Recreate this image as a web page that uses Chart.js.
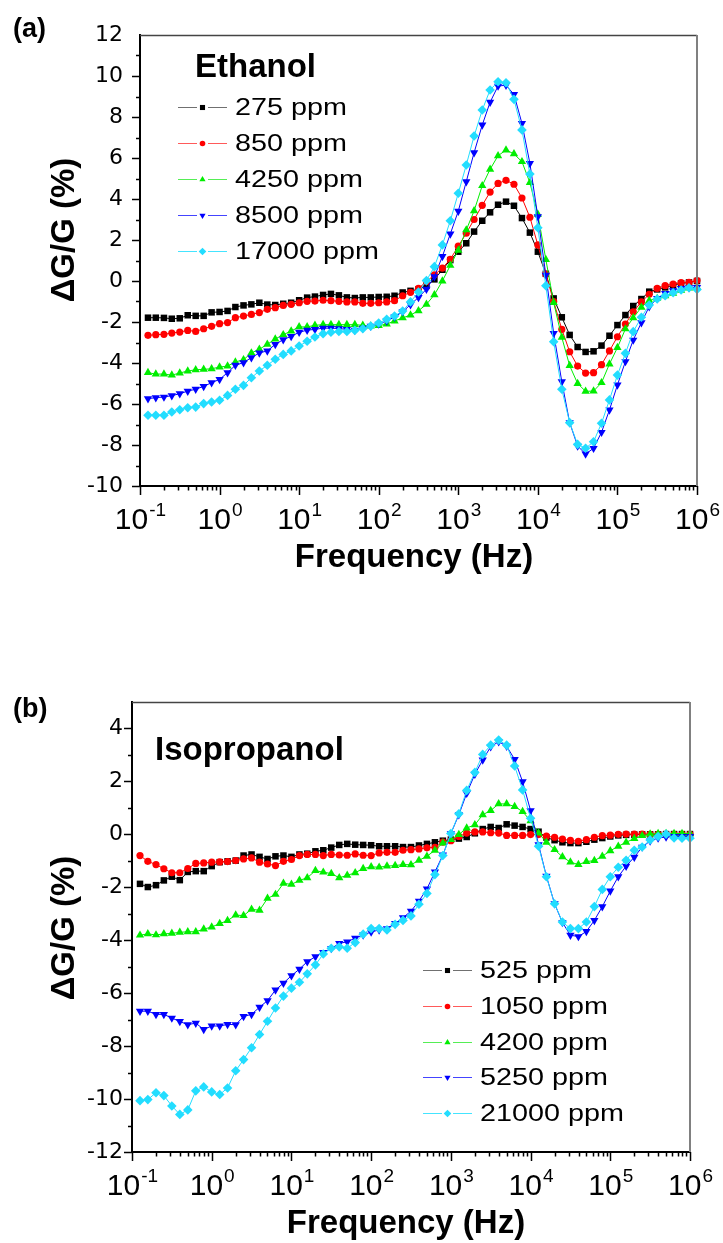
<!DOCTYPE html>
<html>
<head>
<meta charset="utf-8">
<title>ΔG/G vs frequency</title>
<script src="https://cdn.jsdelivr.net/npm/chart.js@4.4.1/dist/chart.umd.min.js"></script>
<style>
  html, body { margin: 0; padding: 0; background: #fff; }
  #wrap { position: relative; width: 723px; height: 1243px; }
  canvas { position: absolute; left: 0; }
  #ethanolChart { top: 0; }
  #isoChart { top: 620px; }
</style>
</head>
<body>
<div id="wrap">
  <canvas id="ethanolChart" width="723" height="620"></canvas>
  <canvas id="isoChart" width="723" height="623"></canvas>
</div>
<script>
// -------------------------
// Data
// -------------------------
const freqHz = [
  0.126, 0.158, 0.2, 0.251, 0.316, 0.398, 0.501, 0.631, 0.794, 1,
  1.26, 1.58, 2, 2.51, 3.16, 3.98, 5.01, 6.31, 7.94, 10,
  12.6, 15.8, 20, 25.1, 31.6, 39.8, 50.1, 63.1, 79.4, 100,
  126, 158, 200, 251, 316, 398, 501, 631, 794, 1000,
  1260, 1580, 2000, 2510, 3160, 3980, 5010, 6310, 7940, 10000,
  12600, 15800, 20000, 25100, 31600, 39800, 50100, 63100, 79400, 100000,
  126000, 158000, 200000, 251000, 316000, 398000, 501000, 631000, 794000, 1000000
];

// x axis labels: 10^n for each decade
const decadeTicks = [0.1, 1, 10, 100, 1000, 10000, 100000, 1000000];
const decadeExponents = ["-1", "0", "1", "2", "3", "4", "5", "6"];
const minorSteps = [2, 3, 4, 5, 6, 7, 8, 9];

const ethanolYTicks = [-10, -8, -6, -4, -2, 0, 2, 4, 6, 8, 10, 12];
const isoYTicks = [-12, -10, -8, -6, -4, -2, 0, 2, 4];

// (a) Ethanol
const ethanolLabels = ["275 ppm", "850 ppm", "4250 ppm", "8500 ppm", "17000 ppm"];
const eth275 = [
  -1.79, -1.79, -1.80, -1.84, -1.82, -1.67, -1.70, -1.70, -1.53, -1.51,
  -1.46, -1.27, -1.19, -1.14, -1.06, -1.15, -1.17, -1.11, -1.06, -0.94,
  -0.81, -0.76, -0.68, -0.63, -0.70, -0.80, -0.83, -0.80, -0.80, -0.78,
  -0.77, -0.72, -0.56, -0.48, -0.41, -0.24, 0.08, 0.55, 1.02, 1.43,
  1.84, 2.41, 2.94, 3.35, 3.72, 3.87, 3.67, 3.07, 2.36, 1.43,
  0.35, -0.85, -1.77, -2.63, -3.22, -3.46, -3.43, -3.15, -2.67, -2.15,
  -1.66, -1.22, -0.88, -0.52, -0.41, -0.31, -0.21, -0.11, -0.07, 0.00
];
const eth850 = [
  -2.65, -2.62, -2.60, -2.54, -2.49, -2.41, -2.46, -2.33, -2.21, -2.08,
  -2.03, -1.79, -1.71, -1.63, -1.54, -1.38, -1.30, -1.19, -1.14, -1.06,
  -0.99, -0.98, -0.94, -0.96, -0.99, -1.02, -1.02, -1.09, -1.09, -1.06,
  -1.02, -0.96, -0.72, -0.55, -0.36, -0.03, 0.30, 0.63, 1.06, 1.70,
  2.33, 3.00, 3.69, 4.34, 4.76, 4.91, 4.72, 4.05, 3.11, 1.76,
  0.34, -1.00, -2.36, -3.45, -4.15, -4.49, -4.47, -4.08, -3.41, -2.72,
  -2.10, -1.50, -1.02, -0.65, -0.36, -0.23, -0.15, -0.08, -0.07, 0.02
];
const eth4250 = [
  -4.47, -4.54, -4.54, -4.59, -4.49, -4.39, -4.33, -4.31, -4.28, -4.20,
  -4.15, -3.95, -3.84, -3.51, -3.33, -3.09, -2.83, -2.62, -2.44, -2.24,
  -2.24, -2.16, -2.13, -2.13, -2.13, -2.13, -2.13, -2.16, -2.20, -2.18,
  -2.10, -1.95, -1.80, -1.66, -1.45, -1.14, -0.67, 0.00, 0.76, 1.50,
  2.49, 3.42, 4.65, 5.45, 6.11, 6.39, 6.20, 5.82, 4.80, 3.25,
  1.05, -1.05, -2.75, -4.13, -5.00, -5.38, -5.37, -4.96, -4.05, -3.25,
  -2.34, -1.80, -1.28, -0.95, -0.85, -0.72, -0.60, -0.45, -0.35, -0.30
];
const eth8500 = [
  -5.74, -5.69, -5.66, -5.59, -5.50, -5.37, -5.28, -5.14, -4.96, -4.80,
  -4.47, -4.11, -3.98, -3.74, -3.51, -3.41, -3.09, -2.86, -2.70, -2.50,
  -2.40, -2.36, -2.30, -2.30, -2.32, -2.36, -2.40, -2.30, -2.20, -2.10,
  -1.95, -1.75, -1.50, -1.15, -0.80, -0.40, 0.21, 1.20, 2.30, 3.41,
  4.85, 6.26, 7.61, 8.72, 9.51, 9.55, 9.10, 7.69, 5.74, 3.14,
  0.29, -2.55, -4.91, -6.91, -8.05, -8.44, -8.16, -7.38, -6.29, -5.07,
  -3.93, -2.88, -2.03, -1.25, -0.85, -0.60, -0.47, -0.36, -0.33, -0.31
];
const eth17000 = [
  -6.55, -6.55, -6.55, -6.39, -6.28, -6.18, -6.15, -5.98, -5.90, -5.82,
  -5.58, -5.28, -5.09, -4.72, -4.39, -4.11, -3.82, -3.58, -3.41, -3.17,
  -2.94, -2.73, -2.57, -2.50, -2.46, -2.46, -2.41, -2.33, -2.20, -2.05,
  -1.87, -1.71, -1.46, -1.02, -0.54, 0.02, 0.70, 1.76, 2.94, 4.28,
  5.66, 7.07, 8.34, 9.32, 9.72, 9.67, 8.86, 7.37, 5.22, 2.60,
  -0.23, -2.96, -5.28, -6.91, -7.97, -8.16, -7.84, -6.94, -5.80, -4.59,
  -3.53, -2.47, -1.77, -1.17, -0.88, -0.72, -0.57, -0.44, -0.33, -0.41
];

// (b) Isopropanol
const isoLabels = ["525 ppm", "1050 ppm", "4200 ppm", "5250 ppm", "21000 ppm"];
const iso525 = [
  -1.87, -1.99, -1.92, -1.74, -1.60, -1.73, -1.42, -1.39, -1.39, -1.20,
  -1.05, -1.02, -0.99, -0.80, -0.76, -0.85, -0.93, -0.83, -0.80, -0.85,
  -0.76, -0.73, -0.64, -0.60, -0.50, -0.40, -0.36, -0.39, -0.40, -0.41,
  -0.45, -0.45, -0.45, -0.48, -0.48, -0.42, -0.36, -0.30, -0.24, -0.20,
  -0.16, -0.10, 0.04, 0.20, 0.28, 0.24, 0.38, 0.33, 0.28, 0.20,
  0.10, -0.12, -0.22, -0.30, -0.33, -0.33, -0.28, -0.20, -0.14, -0.08,
  -0.04, -0.02, -0.01, 0.00, 0.00, 0.00, 0.01, 0.01, 0.01, 0.01
];
const iso1050 = [
  -0.80, -1.02, -1.14, -1.30, -1.45, -1.45, -1.29, -1.10, -1.08, -1.05,
  -1.04, -1.03, -0.99, -0.93, -0.89, -1.05, -1.12, -1.18, -1.02, -0.95,
  -0.80, -0.76, -0.76, -0.80, -0.76, -0.78, -0.79, -0.74, -0.79, -0.80,
  -0.70, -0.68, -0.68, -0.60, -0.58, -0.55, -0.51, -0.49, -0.29, -0.24,
  -0.08, 0.05, 0.09, 0.09, 0.06, 0.05, -0.04, -0.04, -0.04, -0.01,
  -0.01, -0.07, -0.11, -0.18, -0.23, -0.26, -0.20, -0.11, -0.05, -0.03,
  0.00, 0.01, 0.01, 0.01, 0.00, 0.00, 0.00, 0.00, 0.00, 0.00
];
const iso4200 = [
  -3.81, -3.76, -3.80, -3.76, -3.74, -3.70, -3.68, -3.68, -3.58, -3.50,
  -3.37, -3.26, -3.05, -3.07, -2.83, -2.87, -2.42, -2.27, -1.85, -1.89,
  -1.74, -1.64, -1.37, -1.43, -1.48, -1.64, -1.55, -1.45, -1.29, -1.23,
  -1.24, -1.20, -1.18, -1.14, -1.15, -0.98, -0.83, -0.60, -0.33, -0.20,
  -0.01, 0.24, 0.36, 0.74, 0.90, 1.15, 1.15, 1.05, 0.86, 0.51,
  0.05, -0.30, -0.58, -0.85, -1.05, -1.14, -1.03, -0.99, -0.83, -0.62,
  -0.45, -0.30, -0.16, -0.05, 0.01, 0.03, 0.03, 0.03, 0.03, 0.03
];
const iso5250 = [
  -6.68, -6.68, -6.80, -6.80, -6.94, -7.07, -7.19, -7.13, -7.37, -7.24,
  -7.24, -7.18, -7.19, -6.88, -6.80, -6.53, -6.28, -5.88, -5.62, -5.34,
  -5.09, -4.81, -4.62, -4.46, -4.31, -4.12, -4.06, -3.92, -3.80, -3.69,
  -3.61, -3.56, -3.36, -3.15, -2.90, -2.52, -2.06, -1.42, -0.78, 0.03,
  0.74, 1.55, 2.27, 2.81, 3.31, 3.50, 3.33, 2.83, 1.99, 0.90,
  -0.39, -1.58, -2.62, -3.33, -3.81, -3.86, -3.67, -3.25, -2.73, -2.14,
  -1.60, -1.20, -0.86, -0.48, -0.25, -0.14, -0.10, -0.08, -0.08, -0.08
];
const iso21000 = [
  -10.06, -10.02, -9.76, -9.87, -10.26, -10.58, -10.41, -9.69, -9.54, -9.73,
  -9.83, -9.58, -8.93, -8.51, -8.06, -7.56, -7.06, -6.56, -6.11, -5.81,
  -5.59, -5.27, -4.93, -4.52, -4.30, -4.25, -4.30, -4.09, -3.77, -3.56,
  -3.56, -3.61, -3.40, -3.25, -3.08, -2.64, -2.23, -1.52, -0.80, 0.03,
  0.78, 1.66, 2.34, 3.02, 3.37, 3.56, 3.37, 2.58, 1.68, 0.61,
  -0.45, -1.60, -2.62, -3.31, -3.56, -3.56, -3.31, -2.73, -2.08, -1.60,
  -1.24, -0.98, -0.60, -0.48, -0.21, -0.08, 0.01, -0.14, -0.15, -0.15
];

// -------------------------
// Styles
// -------------------------
const FONT = '"Liberation Sans", Arial, sans-serif';

const seriesStyles = [
  { color: "#000000", legendLine: "#707070", pointStyle: "rect",     radius: 4.6, legendRadius: 3.6, rotation: 0 },
  { color: "#ff0000", legendLine: "#ff5a5a", pointStyle: "circle",   radius: 3.6, legendRadius: 2.8, rotation: 0 },
  { color: "#00ee00", legendLine: "#55ee55", pointStyle: "triangle", radius: 4.8, legendRadius: 3.6, rotation: 0 },
  { color: "#0000ff", legendLine: "#4444ff", pointStyle: "triangle", radius: 4.8, legendRadius: 3.6, rotation: 180 },
  { color: "#22ddff", legendLine: "#44e4ff", pointStyle: "rectRot",  radius: 4.8, legendRadius: 3.8, rotation: 0 }
];

function buildDatasets(labels, seriesList) {
  return seriesList.map((values, k) => {
    const st = seriesStyles[k];
    return {
      label: labels[k],
      data: freqHz.map((f, j) => ({ x: f, y: values[j] })),
      borderColor: st.color,
      borderWidth: 1,
      backgroundColor: st.color,
      pointStyle: st.pointStyle,
      pointRadius: st.radius,
      pointRotation: st.rotation,
      pointBackgroundColor: st.color,
      pointBorderWidth: 0,
      tension: 0,
      fill: false,
      clip: false,
      order: 5 - k // later series drawn on top
    };
  });
}

// -------------------------
// Plugin: frame, ticks, x labels, titles, legend
// -------------------------
const panelDecor = {
  id: "panelDecor",
  afterDraw(chart, args, p) {
    const { ctx, chartArea: a, scales } = chart;
    const x = scales.x, y = scales.y;
    ctx.save();

    // top + right edges of the box
    ctx.lineWidth = 1.5;
    ctx.strokeStyle = "#444";
    ctx.beginPath();
    ctx.moveTo(a.left, a.top + 0.5);
    ctx.lineTo(a.right, a.top + 0.5);
    ctx.stroke();
    ctx.lineWidth = 2;
    ctx.strokeStyle = "#808080";
    ctx.beginPath();
    ctx.moveTo(a.right, a.top);
    ctx.lineTo(a.right, a.bottom);
    ctx.stroke();

    // y ticks: major every 2, minor every 1
    ctx.strokeStyle = "#000";
    ctx.lineWidth = 1.5;
    ctx.beginPath();
    for (let v = Math.ceil(y.min); v <= Math.floor(y.max); v++) {
      const py = Math.round(y.getPixelForValue(v)) + 0.5;
      if (py < a.top + 1) continue;
      const len = v % 2 === 0 ? 8 : 4;
      ctx.moveTo(a.left, py);
      ctx.lineTo(a.left - len, py);
    }
    // x ticks: decades + 2..9 minors
    decadeTicks.forEach((d, k) => {
      const px = Math.round(x.getPixelForValue(d)) + 0.5;
      ctx.moveTo(px, a.bottom);
      ctx.lineTo(px, a.bottom + 9);
      if (k < decadeTicks.length - 1) {
        minorSteps.forEach(m => {
          const mx = Math.round(x.getPixelForValue(d * m)) + 0.5;
          ctx.moveTo(mx, a.bottom);
          ctx.lineTo(mx, a.bottom + 4.5);
        });
      }
    });
    ctx.stroke();

    // x labels 10^n
    ctx.fillStyle = "#000";
    ctx.textBaseline = "alphabetic";
    ctx.textAlign = "left";
    decadeTicks.forEach((d, k) => {
      const px = x.getPixelForValue(d);
      ctx.font = "30px " + FONT;
      const wBase = ctx.measureText("10").width;
      ctx.font = "19px " + FONT;
      const wExp = ctx.measureText(decadeExponents[k]).width;
      const left = px - (wBase + wExp) / 2;
      ctx.font = "30px " + FONT;
      ctx.fillText("10", left, p.xLabelBaseline);
      ctx.font = "19px " + FONT;
      ctx.fillText(decadeExponents[k], left + wBase + 1, p.xLabelBaseline - 13);
    });

    // axis titles
    ctx.font = "bold 33px " + FONT;
    ctx.textAlign = "center";
    ctx.fillText("Frequency (Hz)", p.xTitleX, p.xTitleBaseline);
    ctx.save();
    ctx.translate(p.yTitleX, p.yTitleY);
    ctx.rotate(-Math.PI / 2);
    ctx.fillText("ΔG/G (%)", 0, 0);
    ctx.restore();

    // panel tag + gas name
    ctx.textAlign = "left";
    ctx.font = "bold 27px " + FONT;
    ctx.fillText(p.tag, p.tagX, p.tagY);
    ctx.font = "bold 33px " + FONT;
    ctx.fillText(p.title, p.titleX, p.titleY);

    // legend: "—marker—  label"
    chart.data.datasets.forEach((ds, k) => {
      const st = seriesStyles[k];
      const cy = Math.round(p.legendY + k * p.legendStep) + 0.5;
      const lx = p.legendX;
      ctx.strokeStyle = st.legendLine;
      ctx.lineWidth = 1;
      ctx.beginPath();
      ctx.moveTo(lx, cy);
      ctx.lineTo(lx + 19, cy);
      ctx.moveTo(lx + 30, cy);
      ctx.lineTo(lx + 49, cy);
      ctx.stroke();
      ctx.fillStyle = st.color;
      Chart.helpers.drawPoint(ctx, {
        pointStyle: st.pointStyle,
        radius: st.legendRadius,
        rotation: st.rotation,
        borderWidth: 0
      }, lx + 24.5, cy);
      ctx.save();
      ctx.translate(lx + 57, cy + 1);
      ctx.scale(1.25, 1);
      ctx.fillStyle = "#000";
      ctx.textBaseline = "middle";
      ctx.font = "23px " + FONT;
      ctx.fillText(ds.label, 0, 0);
      ctx.restore();
    });

    ctx.restore();
  }
};

function makeChart(canvasId, labels, seriesList, yRange, yTicks, layout, decor) {
  return new Chart(document.getElementById(canvasId), {
    type: "line",
    data: { datasets: buildDatasets(labels, seriesList) },
    options: {
      responsive: false,
      animation: false,
      devicePixelRatio: 1,
      layout: { padding: layout.padding },
      plugins: {
        legend: { display: false },
        tooltip: { enabled: false },
        panelDecor: decor
      },
      scales: {
        x: {
          type: "logarithmic",
          min: 0.1,
          max: 1000000,
          grid: { display: false, drawTicks: false },
          border: { display: true, color: "#000", width: 2 },
          ticks: { display: false },
          afterFit: s => { s.height = layout.xHeight; }
        },
        y: {
          type: "linear",
          min: yRange[0],
          max: yRange[1],
          grid: { display: false, drawTicks: false },
          border: { display: true, color: "#000", width: 2 },
          afterBuildTicks: s => { s.ticks = yTicks.map(v => ({ value: v })); },
          ticks: {
            padding: layout.yPad,
            color: "#000",
            font: { family: '"DejaVu Sans", sans-serif', size: 22 }
          },
          afterFit: s => { s.width = layout.yWidth; }
        }
      }
    },
    plugins: [panelDecor]
  });
}

// (a) Ethanol: plot box 140..697 x 35..486
makeChart("ethanolChart", ethanolLabels, [eth275, eth850, eth4250, eth8500, eth17000],
  [-10, 12], ethanolYTicks,
  { padding: { left: 0, top: 35, right: 26, bottom: 0 }, xHeight: 134, yWidth: 140, yPad: 17 },
  {
    tag: "(a)", tagX: 13, tagY: 37,
    title: "Ethanol", titleX: 195, titleY: 77,
    yTitleX: 74, yTitleY: 230,
    xLabelBaseline: 529, xTitleX: 414, xTitleBaseline: 567,
    legendX: 178, legendY: 107, legendStep: 36
  });

// (b) Isopropanol: plot box 132..690 x 82..532 (canvas offset 620)
makeChart("isoChart", isoLabels, [iso525, iso1050, iso4200, iso5250, iso21000],
  [-12, 5], isoYTicks,
  { padding: { left: 0, top: 82, right: 33, bottom: 0 }, xHeight: 91, yWidth: 132, yPad: 9 },
  {
    tag: "(b)", tagX: 13, tagY: 97,
    title: "Isopropanol", titleX: 155, titleY: 140,
    yTitleX: 74, yTitleY: 308,
    xLabelBaseline: 575, xTitleX: 406, xTitleBaseline: 613,
    legendX: 423, legendY: 350, legendStep: 35.8
  });
</script>
</body>
</html>
